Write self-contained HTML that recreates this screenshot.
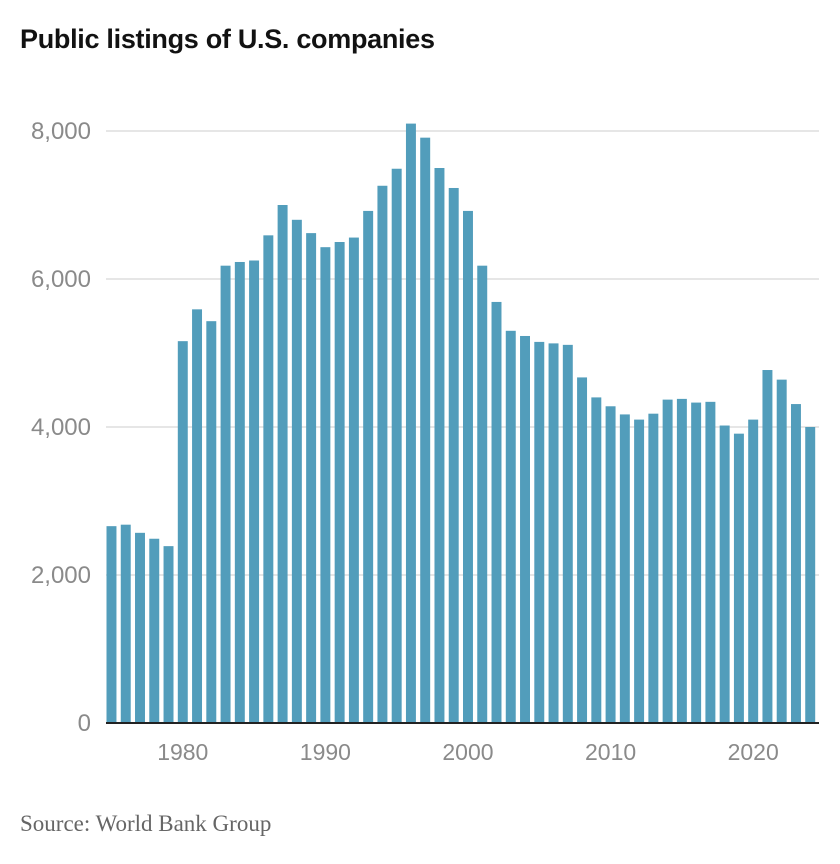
<!DOCTYPE html>
<html><head><meta charset="utf-8"><style>
body{margin:0;background:#fff;width:840px;height:864px;overflow:hidden;font-family:"Liberation Sans",sans-serif}
#title{position:absolute;left:20px;top:24px;font-size:27px;font-weight:bold;color:#121212;letter-spacing:-0.3px}
#src{position:absolute;left:20px;top:811px;font-family:"Liberation Serif",serif;font-size:23px;color:#666}
svg{position:absolute;left:0;top:0}
</style></head><body>
<div id="title">Public listings of U.S. companies</div>
<svg id="chart" width="840" height="864"></svg>
<div id="src">Source: World Bank Group</div>
<script>
const years=[];for(let y=1975;y<=2024;y++)years.push(y);
const listings=[2660,2680,2570,2490,2390,5160,5590,5430,6180,6230,6250,6590,7000,6800,6620,6430,6500,6560,6920,7260,7490,8100,7910,7500,7230,6920,6180,5690,5300,5230,5150,5130,5110,4670,4400,4280,4170,4100,4180,4370,4380,4330,4340,4020,3910,4100,4770,4640,4310,4000];
const yTicks=[0,2000,4000,6000,8000];
const xTicks=[1980,1990,2000,2010,2020];
const svg=document.getElementById('chart');const NS='http://www.w3.org/2000/svg';
const x0=106,x1=819,yBase=723,yTop=131;
const pitch=(x1-x0)/years.length;
const xs=i=>x0+i*pitch;
const ys=v=>yBase-(v/8000)*(yBase-yTop);
function mk(t,a){const e=document.createElementNS(NS,t);for(const k in a)e.setAttribute(k,a[k]);svg.appendChild(e);return e;}
yTicks.forEach(v=>{
 if(v>0){const l=mk('line',{x1:x0,x2:x1,y1:ys(v),y2:ys(v),stroke:'#dedede','stroke-width':1.5});
 
 }
 const t=mk('text',{x:91,y:ys(v)+8,'text-anchor':'end','font-size':24,fill:'#8a8a8a','font-family':'Liberation Sans'});
 t.textContent=v.toLocaleString('en-US');
 
 
});
listings.forEach((v,i)=>{
 const r=mk('rect',{x:xs(i)+0.5,y:ys(v),width:pitch-4.3,height:yBase-ys(v),fill:'#529dbb'});
 
 
});
const ax=mk('line',{x1:x0,x2:x1,y1:yBase,y2:yBase,stroke:'#222','stroke-width':2});


xTicks.forEach(yr=>{
 const i=years.indexOf(yr);const cx=xs(i)+(pitch-4.3)/2+0.5;
 const t=mk('text',{x:cx,y:760,'text-anchor':'middle','font-size':23,fill:'#8a8a8a','font-family':'Liberation Sans'});
 t.textContent=yr;
 
 
});
</script>
</body></html>
